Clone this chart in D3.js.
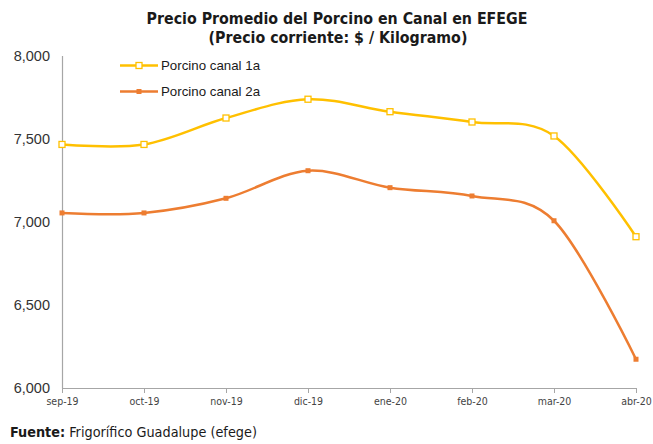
<!DOCTYPE html>
<html>
<head>
<meta charset="utf-8">
<script src="https://cdn.jsdelivr.net/npm/d3@7"></script>
<style>
  body { margin: 0; background: #fff; }
  #chart { width: 653px; height: 444px; }
</style>
</head>
<body>
<div id="chart"></div>
<script>
// Data
const months = ['sep-19', 'oct-19', 'nov-19', 'dic-19', 'ene-20', 'feb-20', 'mar-20', 'abr-20'];
const canal1a = [7465, 7465, 7624, 7737, 7662, 7600, 7516, 6910];
const canal2a = [7053, 7053, 7141, 7307, 7205, 7155, 7006, 6173];
const yTicks = [6000, 6500, 7000, 7500, 8000];

const width = 653, height = 444;
const margin = { top: 55.5, right: 17, bottom: 56, left: 62 };
const fontNarrow = '"Liberation Sans Narrow", "Arial Narrow", "DejaVu Sans Condensed", sans-serif';

const svg = d3.select('#chart').append('svg')
    .attr('width', width)
    .attr('height', height);

const x = d3.scalePoint()
    .domain(months)
    .range([margin.left, width - margin.right]);

const y = d3.scaleLinear()
    .domain([6000, 8000])
    .range([height - margin.bottom, margin.top]);

// Title
const title = svg.append('text')
    .attr('text-anchor', 'middle')
    .attr('font-family', fontNarrow)
    .attr('font-weight', 'bold')
    .attr('font-size', 15.8)
    .attr('fill', '#1a1a1a');
title.append('tspan').attr('x', 337).attr('y', 24).text('Precio Promedio del Porcino en Canal en EFEGE');
title.append('tspan').attr('x', 338).attr('y', 43).text('(Precio corriente: $ / Kilogramo)');

// Axes
const yAxis = svg.append('g')
    .attr('transform', `translate(${margin.left},0)`)
    .call(d3.axisLeft(y).tickValues(yTicks).tickSize(0).tickPadding(12).tickFormat(d3.format(',')));
yAxis.select('.domain').attr('stroke', '#a6a6a6').attr('stroke-width', 1.2);
yAxis.selectAll('text')
    .attr('font-family', 'Arial, "Liberation Sans", sans-serif')
    .attr('font-size', 14.5)
    .attr('fill', '#333');

const xAxis = svg.append('g')
    .attr('transform', `translate(0,${height - margin.bottom})`)
    .call(d3.axisBottom(x).tickSizeInner(5).tickSizeOuter(0).tickPadding(5));
xAxis.select('.domain').attr('stroke', '#a6a6a6').attr('stroke-width', 1.2);
xAxis.selectAll('line').attr('stroke', '#a6a6a6');
xAxis.selectAll('text')
    .attr('font-family', fontNarrow)
    .attr('font-size', 10.5)
    .attr('fill', '#444');

// Lines
const line = d3.line()
    .x((d, i) => x(months[i]))
    .y(d => y(d))
    .curve(d3.curveCatmullRom.alpha(0));

const series = [
  { name: 'Porcino canal 1a', values: canal1a, color: '#FFC000', hollow: true },
  { name: 'Porcino canal 2a', values: canal2a, color: '#ED7D31', hollow: false }
];

series.forEach(s => {
  svg.append('path')
      .datum(s.values)
      .attr('fill', 'none')
      .attr('stroke', s.color)
      .attr('stroke-width', 2.5)
      .attr('d', line);

  const size = s.hollow ? 6 : 5;
  svg.selectAll(null)
    .data(s.values)
    .join('rect')
      .attr('x', (d, i) => x(months[i]) - size / 2)
      .attr('y', d => y(d) - size / 2)
      .attr('width', size)
      .attr('height', size)
      .attr('fill', s.hollow ? '#fff' : s.color)
      .attr('stroke', s.color)
      .attr('stroke-width', s.hollow ? 1.3 : 0);
});

// Legend
const legend = svg.append('g');
series.forEach((s, i) => {
  const ly = 65.5 + i * 26;
  legend.append('line')
      .attr('x1', 120).attr('x2', 158)
      .attr('y1', ly).attr('y2', ly)
      .attr('stroke', s.color)
      .attr('stroke-width', 2.5);
  const size = s.hollow ? 6 : 5;
  legend.append('rect')
      .attr('x', 139 - size / 2).attr('y', ly - size / 2)
      .attr('width', size).attr('height', size)
      .attr('fill', s.hollow ? '#fff' : s.color)
      .attr('stroke', s.color)
      .attr('stroke-width', s.hollow ? 1.3 : 0);
  legend.append('text')
      .attr('x', 161).attr('y', ly + 4.5)
      .attr('font-family', 'Arial, "Liberation Sans", sans-serif')
      .attr('font-size', 13.3)
      .attr('fill', '#1a1a1a')
      .text(s.name);
});

// Source
const src = svg.append('text')
    .attr('x', 10).attr('y', 437)
    .attr('font-family', fontNarrow)
    .attr('font-size', 14.3)
    .attr('fill', '#1a1a1a');
src.append('tspan').attr('font-weight', 'bold').text('Fuente:');
src.append('tspan').text(' Frigorífico Guadalupe (efege)');
</script>
</body>
</html>
